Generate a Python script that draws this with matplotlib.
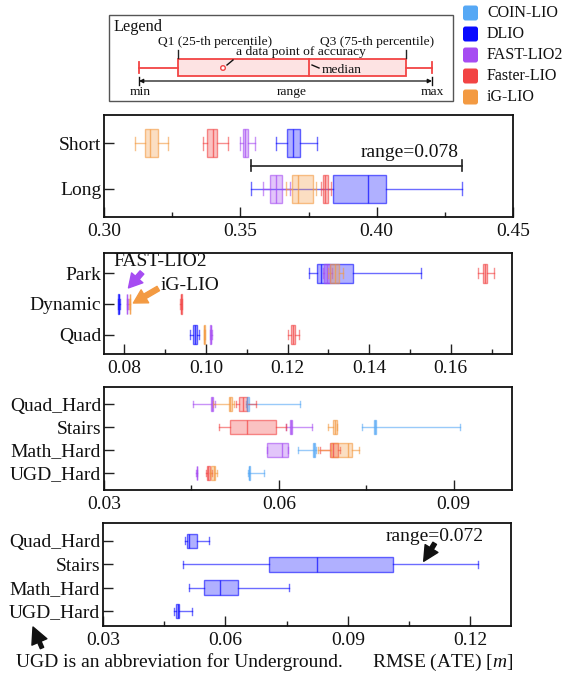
import matplotlib
matplotlib.use('Agg')
import matplotlib.pyplot as plt
from matplotlib.colors import to_rgba
from matplotlib.patches import FancyBboxPatch, Rectangle, Circle
from matplotlib.ticker import MultipleLocator, FixedLocator, FormatStrFormatter

plt.rcParams['font.family'] = ['Liberation Serif', 'DejaVu Serif']
plt.rcParams['mathtext.fontset'] = 'custom'
plt.rcParams['mathtext.it'] = 'Liberation Serif:italic'
plt.rcParams['mathtext.rm'] = 'Liberation Serif'

# ---------------- data ----------------
methods = ['COIN-LIO', 'DLIO', 'FAST-LIO2', 'Faster-LIO', 'iG-LIO']
method_colors = ['#56a8f5', '#0a0aff', '#a64cf2', '#f24444', '#f39a42']

# five-number summaries: [whisker low, Q1, median, Q3, whisker high]
p1_rows = ['Short', 'Long']
p1_coin = [None, None]
p1_dlio = [[0.3630, 0.3672, 0.3694, 0.3719, 0.3783], [0.3538, 0.3841, 0.3967, 0.4033, 0.4314]]
p1_fast = [[0.3499, 0.3508, 0.3517, 0.3529, 0.3555], [0.3584, 0.3609, 0.3630, 0.3651, 0.3682]]
p1_faster = [[0.3364, 0.3379, 0.3398, 0.3413, 0.3453], [0.3796, 0.3803, 0.3811, 0.3822, 0.3832]]
p1_ig = [[0.3114, 0.3150, 0.3169, 0.3197, 0.3233], [0.3666, 0.3690, 0.3710, 0.3768, 0.3778]]
p1_xticks = [0.30, 0.35, 0.40, 0.45]

p2_rows = ['Park', 'Dynamic', 'Quad']
p2_coin = [None, None, None]
p2_dlio = [[0.1252, 0.1271, 0.1281, 0.1361, 0.1528], [0.0784, 0.0785, 0.0786, 0.0787, 0.0788],
           [0.0960, 0.0968, 0.0974, 0.0979, 0.0984]]
p2_fast = [[0.1286, 0.1289, 0.1296, 0.1304, 0.1309], [0.0806, 0.0806, 0.0807, 0.0807, 0.0808],
           [0.1010, 0.1011, 0.1012, 0.1013, 0.1014]]
p2_faster = [[0.1667, 0.1678, 0.1683, 0.1689, 0.1705], [0.0937, 0.0938, 0.0939, 0.0940, 0.0941],
             [0.1202, 0.1209, 0.1213, 0.1218, 0.1229]]
p2_ig = [[0.1298, 0.1304, 0.1315, 0.1327, 0.1337], [0.0812, 0.0813, 0.0813, 0.0813, 0.0814],
         [0.0995, 0.0996, 0.0996, 0.0997, 0.0998]]
p2_xticks = [0.08, 0.10, 0.12, 0.14, 0.16]

p3_rows = ['Quad_Hard', 'Stairs', 'Math_Hard', 'UGD_Hard']
p3_coin = [[0.0544, 0.0545, 0.0546, 0.0548, 0.0636], [0.0743, 0.0764, 0.0765, 0.0767, 0.0910],
           [0.0633, 0.0658, 0.0660, 0.0662, 0.0664], [0.0547, 0.0548, 0.0549, 0.0550, 0.0574]]
p3_dlio = [None, None, None, None]
p3_fast = [[0.0452, 0.0483, 0.0485, 0.0487, 0.0490], [0.0612, 0.0619, 0.0621, 0.0623, 0.0657],
           [0.0580, 0.0580, 0.0605, 0.0616, 0.0616], [0.0458, 0.0459, 0.0459, 0.0460, 0.0460]]
p3_faster = [[0.0527, 0.0532, 0.0539, 0.0546, 0.0561], [0.0497, 0.0516, 0.0545, 0.0595, 0.0612],
             [0.0671, 0.0687, 0.0693, 0.0702, 0.0705], [0.0475, 0.0477, 0.0479, 0.0482, 0.0485]]
p3_ig = [[0.0487, 0.0514, 0.0516, 0.0519, 0.0523], [0.0685, 0.0693, 0.0696, 0.0699, 0.0700],
         [0.0668, 0.0689, 0.0719, 0.0726, 0.0737], [0.0482, 0.0484, 0.0488, 0.0491, 0.0494]]
p3_xticks = [0.03, 0.06, 0.09]

p4_rows = ['Quad_Hard', 'Stairs', 'Math_Hard', 'UGD_Hard']
p4_dlio = [[0.0500, 0.0507, 0.0512, 0.0530, 0.0559], [0.0497, 0.0707, 0.0824, 0.1011, 0.1218],
           [0.0512, 0.0547, 0.0586, 0.0631, 0.0756], [0.0473, 0.0480, 0.0483, 0.0487, 0.0518]]
p4_xticks = [0.03, 0.06, 0.09, 0.12]

# ---------------- figure ----------------
W, H = 565, 677
fig = plt.figure(figsize=(W / 100, H / 100), dpi=100)


def px_axes(l, t, r, b):
    return fig.add_axes([l / W, 1 - b / H, (r - l) / W, (b - t) / H])


FS = 14
col = dict(zip(methods, method_colors))


def draw_panel(ax, rows, series, xlim, ylim, xticks, minor):
    n = len(rows)
    pos = list(range(n, 0, -1))
    for m, vals in series:
        c = col[m]
        stats, ps = [], []
        for p, v in zip(pos, vals):
            if v is None:
                continue
            stats.append(dict(whislo=v[0], q1=v[1], med=v[2], q3=v[3], whishi=v[4], fliers=[]))
            ps.append(p)
        if not stats:
            continue
        ax.bxp(stats, positions=ps, orientation='horizontal', widths=0.62, capwidths=0.3,
               patch_artist=True, showfliers=False, manage_ticks=False,
               boxprops=dict(facecolor=to_rgba(c, 0.32), edgecolor=to_rgba(c, 0.6), linewidth=1.0),
               whiskerprops=dict(color=to_rgba(c, 0.6), linewidth=1.0),
               capprops=dict(color=to_rgba(c, 0.6), linewidth=1.0),
               medianprops=dict(color=to_rgba(c, 0.7), linewidth=1.0))
    ax.set_xlim(*xlim)
    ax.set_ylim(*ylim)
    ax.set_yticks(pos)
    ax.set_yticklabels(rows)
    ax.xaxis.set_major_locator(FixedLocator(xticks))
    ax.xaxis.set_minor_locator(MultipleLocator(minor))
    ax.xaxis.set_major_formatter(FormatStrFormatter('%.2f'))
    ax.tick_params(axis='both', which='major', direction='in', length=7, width=1.0,
                   labelsize=FS, color='#222222', labelcolor='#111111')
    ax.tick_params(axis='x', which='major', pad=4)
    ax.tick_params(axis='y', which='major', pad=2)
    ax.tick_params(axis='x', which='minor', direction='in', length=3.5, width=1.0, color='#222222')
    ax.tick_params(axis='y', which='minor', left=False)
    for s in ax.spines.values():
        s.set_linewidth(1.3)
        s.set_color('#111111')


ax1 = px_axes(104, 115, 513, 217)
draw_panel(ax1, p1_rows, [('COIN-LIO', p1_coin), ('DLIO', p1_dlio), ('FAST-LIO2', p1_fast),
                          ('Faster-LIO', p1_faster), ('iG-LIO', p1_ig)],
           (0.30, 0.45), (0.37, 2.63), p1_xticks, 0.025)

ax2 = px_axes(104, 253, 512, 354)
draw_panel(ax2, p2_rows, [('COIN-LIO', p2_coin), ('DLIO', p2_dlio), ('FAST-LIO2', p2_fast),
                          ('Faster-LIO', p2_faster), ('iG-LIO', p2_ig)],
           (0.075, 0.175), (0.38, 3.65), p2_xticks, 0.01)

ax3 = px_axes(104, 387, 512, 490)
draw_panel(ax3, p3_rows, [('COIN-LIO', p3_coin), ('DLIO', p3_dlio), ('FAST-LIO2', p3_fast),
                          ('Faster-LIO', p3_faster), ('iG-LIO', p3_ig)],
           (0.03, 0.10), (0.26, 4.74), p3_xticks, 0.015)

ax4 = px_axes(103, 523, 511, 626)
draw_panel(ax4, p4_rows, [('DLIO', p4_dlio)],
           (0.03, 0.13), (0.36, 4.77), p4_xticks, 0.015)

# range bracket in panel 1 (Long row)
long_lo = min(v[1][0] for v in [p1_dlio, p1_fast, p1_faster, p1_ig])
long_hi = max(v[1][4] for v in [p1_dlio, p1_fast, p1_faster, p1_ig])
yb = 1.51
ax1.plot([long_lo, long_hi], [yb, yb], color='#222222', lw=1.2)
ax1.plot([long_lo, long_lo], [yb - 0.12, yb + 0.12], color='#222222', lw=1.2)
ax1.plot([long_hi, long_hi], [yb - 0.12, yb + 0.12], color='#222222', lw=1.2)
ax1.text(long_hi - 0.0015, 1.80, 'range=%.3f' % (long_hi - long_lo), ha='right', va='center',
         fontsize=FS, color='#111111')

# annotations in panel 2
ax2.text(0.0888, 3.36, 'FAST-LIO2', ha='center', va='center', fontsize=FS, color='#111111')
ax2.annotate('', xy=(0.0810, 2.52), xytext=(0.0843, 3.02),
             arrowprops=dict(arrowstyle='simple,head_width=0.9,head_length=0.8,tail_width=0.3',
                             color=col['FAST-LIO2'], mutation_scale=12, shrinkA=0, shrinkB=0))
ax2.text(0.0961, 2.60, 'iG-LIO', ha='center', va='center', fontsize=FS, color='#111111')
ax2.annotate('', xy=(0.0822, 2.03), xytext=(0.0883, 2.50),
             arrowprops=dict(arrowstyle='simple,head_width=0.9,head_length=0.8,tail_width=0.3',
                             color=col['iG-LIO'], mutation_scale=12, shrinkA=0, shrinkB=0))

# annotation in panel 4
st = p4_dlio[1]
ax4.text(0.1114, 4.21, 'range=%.3f' % (st[4] - st[0]), ha='center', va='center', fontsize=FS,
         color='#111111')
ax4.annotate('', xy=(0.1086, 3.13), xytext=(0.1113, 3.90),
             arrowprops=dict(arrowstyle='simple,head_width=0.9,head_length=0.9,tail_width=0.25',
                             color='#111111', mutation_scale=12, shrinkA=0, shrinkB=0))

# ---------------- overlay: schematic legend, colour legend, footnotes ----------------
ov = fig.add_axes([0, 0, 1, 1])
ov.set_xlim(0, W)
ov.set_ylim(H, 0)
ov.axis('off')

red = col['Faster-LIO']
ov.add_patch(Rectangle((109, 15), 344, 86, fill=False, edgecolor='#555555', lw=1.0))
ov.text(113, 27, 'Legend', ha='left', va='center', fontsize=11.7, color='#111111')
sfs = 9.7
ov.text(215, 42, 'Q1 (25-th percentile)', ha='center', va='center', fontsize=sfs, color='#111111')
ov.text(377, 42, 'Q3 (75-th percentile)', ha='center', va='center', fontsize=sfs, color='#111111')
ov.plot([178, 178], [50, 58], color='#222222', lw=1.0)
ov.plot([406, 406], [50, 58], color='#222222', lw=1.0)
ov.add_patch(Rectangle((178, 59), 228, 17, facecolor=to_rgba(red, 0.15), edgecolor=red, lw=1.3))
ov.plot([309, 309], [59, 76], color=red, lw=1.3)
ov.plot([139, 178], [67.5, 67.5], color=red, lw=1.3)
ov.plot([406, 432], [67.5, 67.5], color=red, lw=1.3)
ov.plot([139, 139], [62, 73], color=red, lw=1.3)
ov.plot([432, 432], [62, 73], color=red, lw=1.3)
ov.add_patch(Circle((223, 68), 2.3, facecolor='white', edgecolor=red, lw=1.0))
ov.plot([227, 233], [65, 60], color='#111111', lw=1.0)
ov.text(236, 52, 'a data point of accuracy', ha='left', va='center', fontsize=sfs, color='#111111')
ov.plot([312, 319], [65, 68], color='#111111', lw=1.0)
ov.text(322, 70, 'median', ha='left', va='center', fontsize=sfs, color='#111111')
ov.annotate('', xy=(139, 81), xytext=(432, 81),
            arrowprops=dict(arrowstyle='<|-|>', color='#111111', lw=0.9, mutation_scale=6,
                            shrinkA=0, shrinkB=0))
ov.plot([139, 139], [77, 85], color='#111111', lw=1.0)
ov.plot([432, 432], [77, 85], color='#111111', lw=1.0)
ov.text(140, 92, 'min', ha='center', va='center', fontsize=sfs, color='#111111')
ov.text(292, 92, 'range', ha='center', va='center', fontsize=sfs, color='#111111')
ov.text(432, 92, 'max', ha='center', va='center', fontsize=sfs, color='#111111')

leg_y = [13, 34, 55, 76, 97]
for m, c, y in zip(methods, method_colors, leg_y):
    ov.add_patch(FancyBboxPatch((463, y - 7.5), 15, 15, boxstyle='round,pad=0,rounding_size=2.5',
                                facecolor=c, edgecolor='none'))
    ov.text(487, y, m, ha='left', va='center', fontsize=11.5, color='#111111')

ov.text(16, 662, 'UGD is an abbreviation for Underground.', ha='left', va='center', fontsize=FS,
        color='#111111')
ov.text(513, 662, 'RMSE (ATE) [$m$]', ha='right', va='center', fontsize=FS, color='#111111')
ov.annotate('', xy=(33, 627), xytext=(42, 648),
            arrowprops=dict(arrowstyle='simple,head_width=0.9,head_length=0.9,tail_width=0.2',
                            color='#111111', mutation_scale=13, shrinkA=0, shrinkB=0))

fig.savefig('out.png', dpi=100)
